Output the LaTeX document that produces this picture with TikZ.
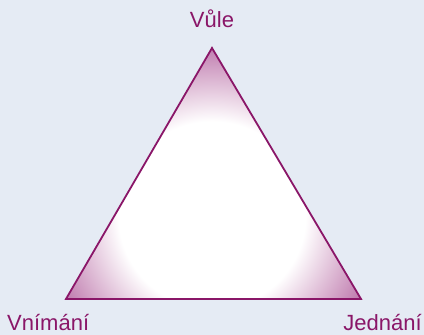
\documentclass[tikz,border=0pt]{standalone}
\usepackage{fontspec}
\setmainfont{Liberation Sans}
\usetikzlibrary{calc}
\definecolor{paper}{HTML}{E5EBF4}
\definecolor{plum}{HTML}{8A1668}
\definecolor{rose}{HTML}{BC74AA}
\pgfdeclareradialshading{bloom}{\pgfpoint{0bp}{0bp}}{%
  color(0bp)=(white); color(13bp)=(white); color(18.5bp)=(rose!50!white);
  color(24bp)=(rose); color(50bp)=(rose)}

\begin{document}
\begin{tikzpicture}[
  x=1pt, y=1pt, line width=.45pt,
  rim/.style={draw=plum, line width=1.8pt, line join=miter},
  lbl/.style={text=plum, font=\fontsize{22}{26}\selectfont, inner sep=0pt},
]
  % Canvas: 424 x 335 px.
  \fill[paper] (0,0) rectangle (424,335);
  \useasboundingbox (0,0) rectangle (424,335);

  % Corners of the triangle.
  \coordinate (will) at (212,287);
  \coordinate (sense) at (66,36);
  \coordinate (act) at (361,36);
  \coordinate (glow) at (212,120);

  % Soft fill: white middle, plum towards the corners.
  \begin{scope}
    \clip (will) -- (sense) -- (act) -- cycle;
    \shade[shading=bloom] (glow) circle (180);
  \end{scope}
  \draw[rim] (will) -- (sense) -- (act) -- cycle;

  % Labels.
  \node[lbl, anchor=base] (vule) at (212,307) {Vůle};
  \node[lbl, anchor=base west] (vnimani) at (7,4) {Vnímání};
  \node[lbl, anchor=base east] (jednani) at (422,4) {Jednání};
\end{tikzpicture}
\end{document}
